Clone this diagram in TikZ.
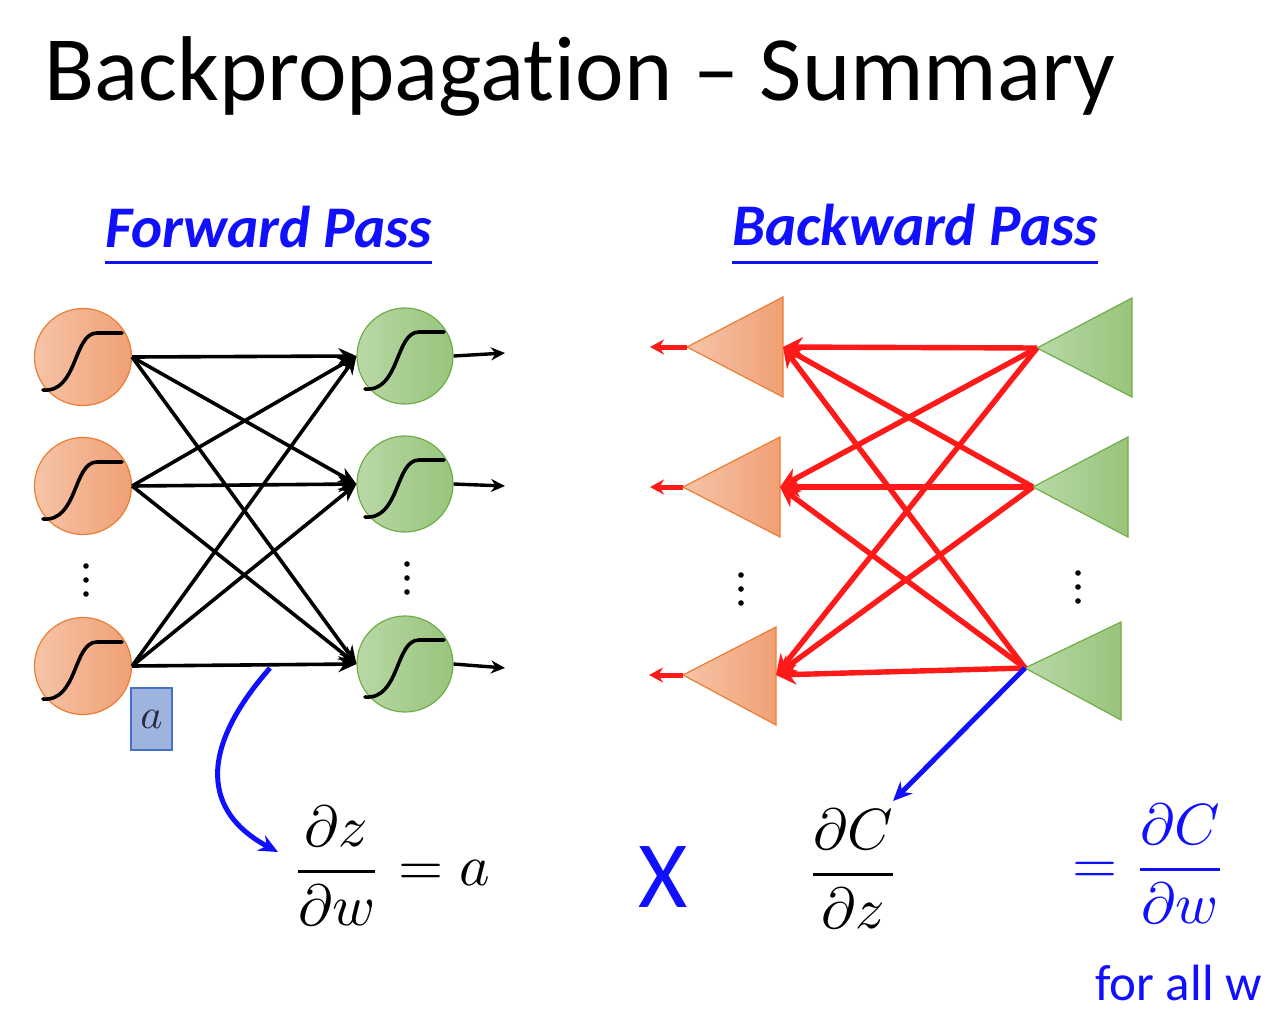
\documentclass[tikz,border=0pt]{standalone}
\usepackage{amsmath}
\usepackage{graphicx}
\usepackage[no-math]{fontspec}
\setmainfont{Carlito}[Ligatures=NoCommon]
\usetikzlibrary{arrows.meta}
\definecolor{orlight}{HTML}{F6C4A8}
\definecolor{ordark}{HTML}{F0A075}
\definecolor{orline}{HTML}{ED7D31}
\definecolor{grlight}{HTML}{B9D8A6}
\definecolor{grdark}{HTML}{98C47C}
\definecolor{grline}{HTML}{70AD47}
\definecolor{myblue}{HTML}{1010FF}
\definecolor{myred}{HTML}{FF1A1A}
\definecolor{abox}{HTML}{9EB3DE}
\definecolor{aboxline}{HTML}{4472C4}
\newcommand{\scaledmath}[1]{\scalebox{5.8}{\fontsize{10}{12}\selectfont$#1$}}
\tikzset{
  orcirc/.style={circle, minimum size=97pt, inner sep=0pt, draw=orline, line width=1.2pt, left color=orlight, right color=ordark},
  grcirc/.style={circle, minimum size=96pt, inner sep=0pt, draw=grline, line width=1.2pt, left color=grlight, right color=grdark},
  ortri/.style={draw=orline, line width=1.2pt, left color=orlight, right color=ordark},
  grtri/.style={draw=grline, line width=1.2pt, left color=grlight, right color=grdark},
  fwarr/.style={line width=3.6pt, -{Stealth[length=18pt,width=16pt]}},
  outarr/.style={line width=3.4pt, -{Stealth[length=14pt,width=13pt]}},
  bwarr/.style={myred, line width=5.4pt, -{Stealth[length=20pt,width=20pt]}},
  redout/.style={myred, line width=5pt, -{Stealth[length=14pt,width=15pt]}},
  bluearr/.style={myblue, line width=5pt, -{Stealth[length=19pt,width=17pt]}},
  sigline/.style={line width=3.6pt, line cap=round},
  dotfill/.style={fill=black},
  bigmath/.style={inner sep=0pt},
  heading/.style={inner sep=0pt, anchor=base west, text=myblue, font=\fontsize{59}{66}\selectfont\bfseries\itshape},
  sigmoid/.pic={\draw[sigline] (-40,33) .. controls (-5,36) and (-10,-24) .. (14,-24) -- (39,-24);}
}
\begin{document}
\begin{tikzpicture}[x=1pt,y=-1pt]
\fill[white] (0,0) rectangle (1284,1028);
\useasboundingbox (0,0) rectangle (1284,1028);

% title
\node[inner sep=0pt, anchor=base west, font=\fontsize{92}{100}\selectfont] (title) at (44,100) {Backpropagation – Summary};

% headings
\node[heading] (fp) at (105,247) {Forward Pass};
\draw[myblue, line width=3pt] ([yshift=-15pt]fp.base west) -- ([yshift=-15pt]fp.base east);
\node[heading] (bp) at (732,245) {Backward Pass};
\draw[myblue, line width=3pt] ([yshift=-17pt]bp.base west) -- ([yshift=-17pt]bp.base east);

% forward network
\node[orcirc] (o1) at (83,357) {};
\node[orcirc] (o2) at (83,486) {};
\node[orcirc] (o3) at (83,666) {};
\node[grcirc] (g1) at (405,356) {};
\node[grcirc] (g2) at (405,484) {};
\node[grcirc] (g3) at (405,664) {};
\foreach \n in {o1,o2,o3,g1,g2,g3} \pic at (\n) {sigmoid};

\foreach \s in {o1,o2,o3} \foreach \t in {g1,g2,g3} \draw[fwarr] (\s.east) -- (\t.west);

\coordinate (out1) at (505,353);
\coordinate (out2) at (505,486);
\coordinate (out3) at (505,668);
\draw[outarr] (g1.east) -- (out1);
\draw[outarr] (g2.east) -- (out2);
\draw[outarr] (g3.east) -- (out3);

\foreach \y in {566,580,594} {\fill[dotfill] (86,\y) circle (2.8); \fill[dotfill] (407,\y-2) circle (2.8);}

\node[draw=aboxline, fill=abox, line width=1.2pt, minimum width=41pt, minimum height=62pt, inner sep=0pt] (abox) at (151.5,719) {\color[HTML]{2A2A40}\scalebox{4.2}{\fontsize{10}{12}\selectfont$a$}};

% backward network
\coordinate (oa1) at (687,347); \coordinate (ob1) at (783,347);
\coordinate (oa2) at (683,487); \coordinate (ob2) at (780,487);
\coordinate (oa3) at (683,675); \coordinate (ob3) at (776,675);
\coordinate (ga1) at (1037,348);
\coordinate (ga2) at (1033,487);
\coordinate (ga3) at (1025,668);

\shade[ortri] (oa1) -- (783,297) -- (783,397) -- cycle;
\shade[ortri] (oa2) -- (780,437) -- (780,537) -- cycle;
\shade[ortri] (oa3) -- (776,627) -- (776,725) -- cycle;
\shade[grtri] (ga1) -- (1132,298) -- (1132,397) -- cycle;
\shade[grtri] (ga2) -- (1128,437) -- (1128,537) -- cycle;
\shade[grtri] (ga3) -- (1121,622) -- (1121,720) -- cycle;

\foreach \s in {ga1,ga2,ga3} \foreach \t in {ob1,ob2,ob3} \draw[bwarr] (\s) -- (\t);

\coordinate (ro1) at (650,347);
\coordinate (ro2) at (650,487);
\coordinate (ro3) at (649,675);
\draw[redout] (oa1) -- (ro1);
\draw[redout] (oa2) -- (ro2);
\draw[redout] (oa3) -- (ro3);

\foreach \y in {575,589,603} {\fill[dotfill] (741,\y) circle (2.8); \fill[dotfill] (1078,\y-2) circle (2.8);}

% formulas
\node[bigmath, anchor=west] (dzdw) at (291,866) {\scaledmath{\dfrac{\partial z}{\partial w} = a}};
\node[inner sep=0pt, text=myblue, font=\fontsize{95}{100}\selectfont] (times) at (663,877) {X};
\node[bigmath] (dcdz) at (853,869) {\scaledmath{\dfrac{\partial C}{\partial z}}};
\node[bigmath, text=myblue, anchor=west] (dcdw) at (1072,864) {\scaledmath{=\dfrac{\partial C}{\partial w}}};
\node[inner sep=0pt, text=myblue, anchor=base east, font=\fontsize{51}{56}\selectfont] (forall) at (1262,1000) {for all w};

% blue connectors
\coordinate (bstart) at (270,668);
\coordinate (btip) at (278,852);
\draw[bluearr] (bstart) .. controls (198,750) and (203,812) .. (btip);
\coordinate (ctip) at (893,801);
\draw[bluearr] (ga3) -- (ctip);
\end{tikzpicture}
\end{document}
